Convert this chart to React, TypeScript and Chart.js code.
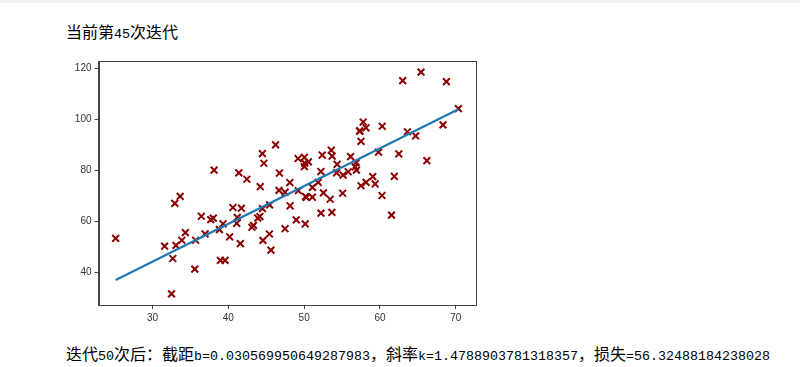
import React, { useEffect, useRef } from "react";
import { Chart, registerables } from "chart.js";

Chart.register(...registerables);

const xValues: number[] = [
  32.50, 53.43, 61.53, 47.48, 59.81, 55.14, 52.21, 39.30, 48.11, 52.55,
  45.42, 54.35, 44.16, 58.17, 56.73, 48.96, 44.69, 60.30, 45.62, 38.82,
  66.19, 65.42, 47.48, 41.58, 51.85, 59.37, 57.31, 63.62, 46.74, 50.56,
  52.22, 35.57, 42.44, 58.16, 57.50, 45.44, 61.90, 33.09, 36.44, 37.68,
  44.56, 43.32, 50.07, 43.87, 63.00, 32.67, 40.17, 53.58, 33.86, 64.71,
  38.12, 44.50, 40.60, 41.72, 51.09, 55.08, 41.38, 62.49, 49.20, 41.10,
  41.18, 50.19, 52.38, 50.14, 33.64, 39.56, 56.13, 57.36, 60.27, 35.68,
  31.59, 53.66, 46.68, 43.11, 70.35, 44.49, 57.50, 36.93, 55.81, 38.95,
  56.90, 56.87, 34.33, 59.05, 57.79, 54.28, 51.09, 50.28, 44.21, 38.01,
  32.94, 53.69, 68.77, 46.23, 68.32, 50.03, 49.24, 50.04, 48.15, 25.13,
];
const yValues: number[] = [
  31.71, 68.78, 62.56, 71.55, 87.23, 78.21, 79.64, 59.17, 75.33, 71.30,
  55.17, 82.48, 62.01, 75.39, 81.44, 60.72, 82.89, 97.38, 48.85, 56.88,
  83.88, 118.59, 57.25, 51.39, 75.38, 74.77, 95.46, 95.23, 79.05, 83.43,
  63.36, 41.41, 76.62, 96.77, 74.08, 66.59, 77.77, 50.72, 62.12, 60.81,
  52.68, 58.57, 82.91, 61.42, 115.24, 45.57, 54.08, 87.99, 52.73, 93.58,
  80.17, 65.10, 65.56, 65.28, 73.43, 71.14, 79.10, 86.52, 84.74, 59.36,
  61.68, 69.85, 86.10, 59.11, 69.90, 44.86, 85.50, 95.54, 70.25, 52.72,
  50.39, 63.64, 72.25, 57.81, 104.26, 86.64, 91.49, 55.23, 79.55, 44.85,
  80.21, 83.14, 55.72, 77.63, 99.05, 79.12, 69.59, 69.51, 73.69, 61.37,
  67.17, 85.67, 114.85, 90.12, 97.92, 81.54, 72.11, 85.23, 66.22, 53.45,
];

const intercept = 0.030569950649287983;
const slope = 1.4788903781318357;
const xTicks: number[] = [30, 40, 50, 60, 70];
const yTicks: number[] = [40, 60, 80, 100, 120];

const titleText = "当前第45次迭代";
const resultText =
  "迭代50次后：截距b=0.030569950649287983，斜率k=1.4788903781318357，损失=56.32488184238028";

const frame = {
  id: "frame",
  afterDraw(chart: any) {
    const { ctx, chartArea } = chart;
    ctx.save();
    ctx.strokeStyle = "#444";
    ctx.lineWidth = 1;
    ctx.strokeRect(
      Math.round(chartArea.left) + 0.5,
      Math.round(chartArea.top) + 0.5,
      Math.round(chartArea.right - chartArea.left),
      Math.round(chartArea.bottom - chartArea.top)
    );
    ctx.restore();
  },
};

function MixedText({ text, cjkSize, asciiSize }: { text: string; cjkSize: number; asciiSize: number }) {
  const runs: { s: string; ascii: boolean }[] = [];
  for (const ch of text) {
    const ascii = ch.charCodeAt(0) < 128;
    const last = runs[runs.length - 1];
    if (last && last.ascii === ascii) last.s += ch;
    else runs.push({ s: ch, ascii });
  }
  return (
    <>
      {runs.map((r, i) => (
        <span
          key={i}
          style={{
            fontFamily: r.ascii ? "'Liberation Mono', monospace" : "'Noto Sans CJK SC', sans-serif",
            fontSize: r.ascii ? asciiSize : cjkSize,
          }}
        >
          {r.s}
        </span>
      ))}
    </>
  );
}

export default function App() {
  const ref = useRef<HTMLCanvasElement | null>(null);

  useEffect(() => {
    if (!ref.current) return;
    const xmin = Math.min(...xValues);
    const xmax = Math.max(...xValues);
    const chart = new Chart(ref.current, {
      type: "scatter",
      data: {
        datasets: [
          {
            type: "line",
            data: [
              { x: xmin, y: slope * xmin + intercept },
              { x: xmax, y: slope * xmax + intercept },
            ],
            borderColor: "#1f77b4",
            borderWidth: 2.2,
            pointRadius: 0,
            fill: false,
          } as any,
          {
            data: xValues.map((x, i) => ({ x, y: yValues[i] })),
            pointStyle: "crossRot",
            pointRadius: 4.8,
            pointBorderWidth: 2,
            borderColor: "#8b0000",
            backgroundColor: "#8b0000",
          },
        ],
      },
      options: {
        animation: false,
        responsive: false,
        devicePixelRatio: 1,
        layout: { padding: { left: 0, right: 19.5, top: 11, bottom: 0 } },
        plugins: { legend: { display: false }, tooltip: { enabled: false } },
        scales: {
          x: {
            type: "linear",
            min: 22.867,
            max: 72.607,
            afterBuildTicks: (s: any) => {
              s.ticks = xTicks.map((v) => ({ value: v }));
            },
            afterFit: (s: any) => {
              s.height = 30;
            },
            ticks: {
              color: "#333",
              padding: 3,
              font: { family: "'Liberation Sans', Arial, sans-serif", size: 10 },
              callback: (v: any) => String(v),
            },
            grid: { drawOnChartArea: false, drawTicks: true, tickLength: 4, color: "#444" },
            border: { display: true, color: "#444" },
          },
          y: {
            type: "linear",
            min: 27.363,
            max: 122.935,
            afterBuildTicks: (s: any) => {
              s.ticks = yTicks.map((v) => ({ value: v }));
            },
            afterFit: (s: any) => {
              s.width = 43.5;
            },
            ticks: {
              color: "#333",
              padding: 3,
              font: { family: "'Liberation Sans', Arial, sans-serif", size: 10 },
              callback: (v: any) => String(v),
            },
            grid: { drawOnChartArea: false, drawTicks: true, tickLength: 4, color: "#444" },
            border: { display: true, color: "#444" },
          },
        },
      },
      plugins: [frame],
    });
    return () => chart.destroy();
  }, []);

  return (
    <div style={{ position: "absolute", left: 0, top: 0, width: 800, height: 367, background: "#fff", overflow: "hidden" }}>
      <div style={{ position: "absolute", left: 0, top: 0, width: 800, height: 3, background: "#f0f0f0" }} />
      <div
        style={{
          position: "absolute",
          left: 66,
          top: 23,
          lineHeight: "16px",
          whiteSpace: "nowrap",
          color: "#000",
        }}
      >
        <MixedText text={titleText} cjkSize={16} asciiSize={13.33} />
      </div>
      <canvas
        ref={ref}
        width={440}
        height={285}
        style={{ position: "absolute", left: 55, top: 50, width: 440, height: 285 }}
      />
      <div
        style={{
          position: "absolute",
          left: 66,
          top: 345,
          lineHeight: "17px",
          whiteSpace: "nowrap",
          color: "#000",
        }}
      >
        <MixedText text={resultText} cjkSize={16} asciiSize={13.33} />
      </div>
    </div>
  );
}
